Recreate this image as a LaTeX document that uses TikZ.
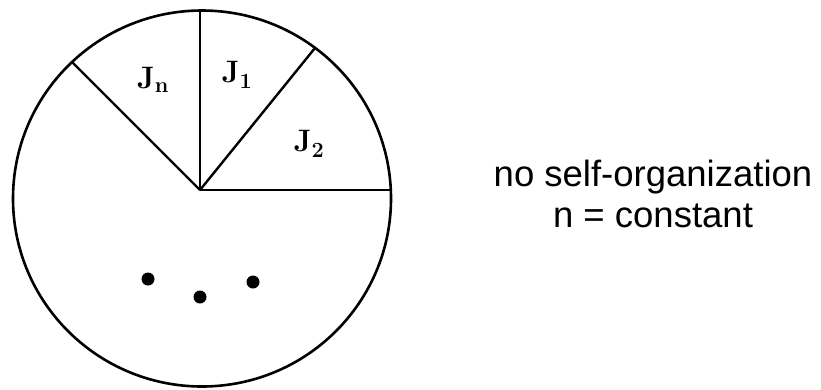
\documentclass[tikz,border=0pt]{standalone}
\usepackage{amsmath}
\usepackage{fontspec}
\newfontfamily\captionfont{Liberation Sans}
\usetikzlibrary{positioning}
\tikzset{
    rim/.style={draw, line width=2.6pt},
    spoke/.style={draw, line width=2.4pt},
    sector/.style={inner sep=0pt, font=\bfseries\fontsize{31}{33}\selectfont},
    dotmark/.style={circle, fill, inner sep=0pt, minimum size=13pt},
    caption/.style={align=center, font=\captionfont\fontsize{36.5}{41}\selectfont}
}

\begin{document}
\begin{tikzpicture}[x=1pt, y=-1pt]
    \useasboundingbox (0,0) rectangle (821,389);
    % disc and its slices
    \draw[rim] (202,198.5) ellipse [x radius=189pt, y radius=188pt];
    \coordinate (hub) at (200,190);
    \coordinate (top) at (200,10);
    \coordinate (cut12) at (315,48);
    \coordinate (cutn) at (72,62);
    \coordinate (right) at (391,190);
    \draw[spoke] (hub)--(top);
    \draw[spoke] (hub)--(cut12);
    \draw[spoke] (hub)--(cutn);
    \draw[spoke] (hub)--(right);
    \node[sector] (jn) at (153,80) {J\textsubscript{n}};
    \node[sector] (j1) at (237,75) {J\textsubscript{1}};
    \node[sector] (j2) at (309,144) {J\textsubscript{2}};
    % the remaining slices
    \node[dotmark] (d1) at (148,279) {};
    \node[dotmark] (d2) at (200,297) {};
    \node[dotmark] (d3) at (253,282) {};
    \node[caption] (note) at (653,194) {no self-organization\\n = constant};
\end{tikzpicture}
\end{document}
